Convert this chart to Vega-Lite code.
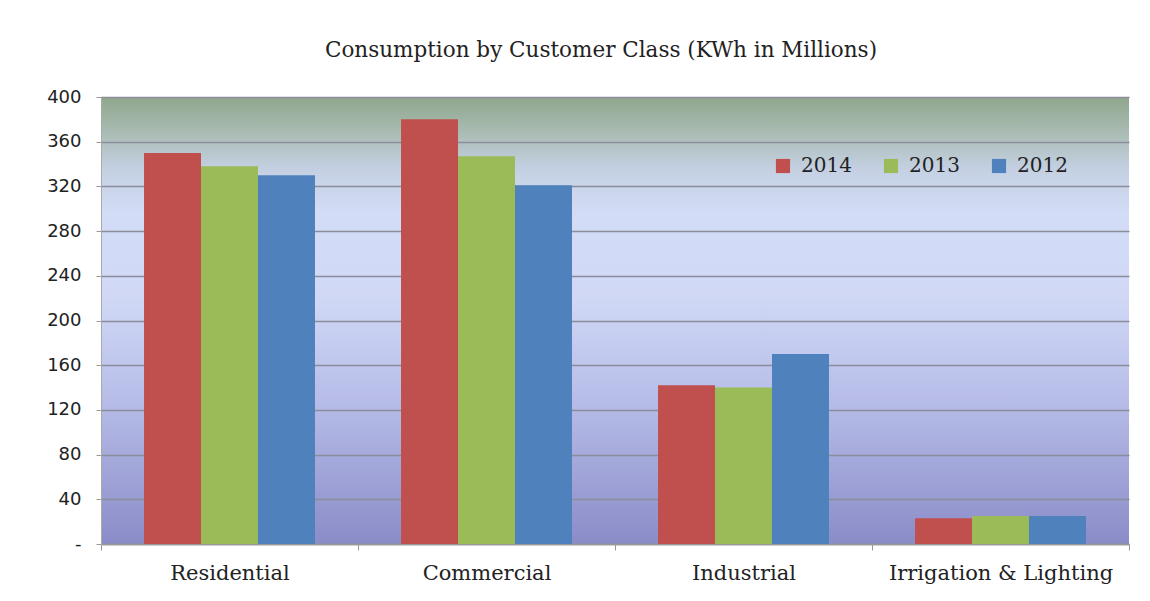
{
  "$schema": "https://vega.github.io/schema/vega-lite/v6.json",
  "width": 1028,
  "height": 447,
  "autosize": {"type": "none"},
  "padding": {"left": 101, "top": 97, "right": 21, "bottom": 57},
  "background": "white",
  "title": {
    "text": "Consumption by Customer Class (KWh in Millions)",
    "font": "DejaVu Serif",
    "fontSize": 21.5,
    "fontWeight": "normal",
    "color": "#222222",
    "anchor": "middle",
    "frame": "group",
    "dx": -14,
    "offset": 27
  },
  "data": {
    "values": [
      {"class": "Residential", "year": "2014", "value": 350},
      {"class": "Residential", "year": "2013", "value": 338},
      {"class": "Residential", "year": "2012", "value": 330},
      {"class": "Commercial", "year": "2014", "value": 380},
      {"class": "Commercial", "year": "2013", "value": 347},
      {"class": "Commercial", "year": "2012", "value": 321},
      {"class": "Industrial", "year": "2014", "value": 142},
      {"class": "Industrial", "year": "2013", "value": 140},
      {"class": "Industrial", "year": "2012", "value": 170},
      {"class": "Irrigation & Lighting", "year": "2014", "value": 23},
      {"class": "Irrigation & Lighting", "year": "2013", "value": 25},
      {"class": "Irrigation & Lighting", "year": "2012", "value": 25}
    ]
  },
  "mark": {"type": "bar"},
  "encoding": {
    "x": {
      "field": "class",
      "type": "nominal",
      "sort": ["Residential", "Commercial", "Industrial", "Irrigation & Lighting"],
      "scale": {"paddingInner": 0, "paddingOuter": 0},
      "axis": {
        "title": null,
        "labelAngle": 0,
        "tickBand": "extent",
        "ticks": true,
        "tickSize": 6,
        "tickColor": "#999999",
        "domainColor": "#999999",
        "domainWidth": 1.5,
        "labelFont": "DejaVu Serif",
        "labelFontSize": 21,
        "labelColor": "#222222",
        "labelPadding": 12,
        "labelLimit": 400
      }
    },
    "xOffset": {
      "field": "year",
      "type": "nominal",
      "sort": ["2014", "2013", "2012"],
      "scale": {"paddingInner": 0, "paddingOuter": 0.755}
    },
    "y": {
      "field": "value",
      "type": "quantitative",
      "scale": {"domain": [0, 400], "nice": false},
      "axis": {
        "title": null,
        "values": [0, 40, 80, 120, 160, 200, 240, 280, 320, 360, 400],
        "labelExpr": "datum.value === 0 ? '-' : datum.label",
        "grid": true,
        "gridColor": "#8b8d9b",
        "gridWidth": 1.5,
        "tickColor": "#999999",
        "tickSize": 5,
        "domainColor": "#aaaaaa",
        "labelFont": "DejaVu Sans",
        "labelFontSize": 18,
        "labelColor": "#222222",
        "labelPadding": 15
      }
    },
    "color": {
      "field": "year",
      "type": "nominal",
      "sort": ["2014", "2013", "2012"],
      "scale": {"domain": ["2014", "2013", "2012"], "range": ["#c0504d", "#9bbb59", "#4f81bd"]},
      "legend": {
        "title": null,
        "orient": "none",
        "legendX": 672,
        "legendY": 59,
        "direction": "horizontal",
        "symbolType": "square",
        "symbolSize": 200,
        "symbolStrokeWidth": 0,
        "labelFont": "DejaVu Serif",
        "labelFontSize": 20,
        "labelColor": "#222222",
        "labelOffset": 8,
        "columnPadding": 29
      }
    }
  },
  "config": {
    "view": {
      "stroke": null,
      "fill": {
        "gradient": "linear",
        "x1": 0, "y1": 0, "x2": 0, "y2": 1,
        "stops": [
          {"offset": 0, "color": "#8fa68c"},
          {"offset": 0.08, "color": "#aabcb4"},
          {"offset": 0.16, "color": "#c4d0e2"},
          {"offset": 0.26, "color": "#d2dcf6"},
          {"offset": 0.45, "color": "#d0d8f6"},
          {"offset": 0.7, "color": "#b4bae6"},
          {"offset": 1, "color": "#8a8cc8"}
        ]
      }
    }
  }
}
